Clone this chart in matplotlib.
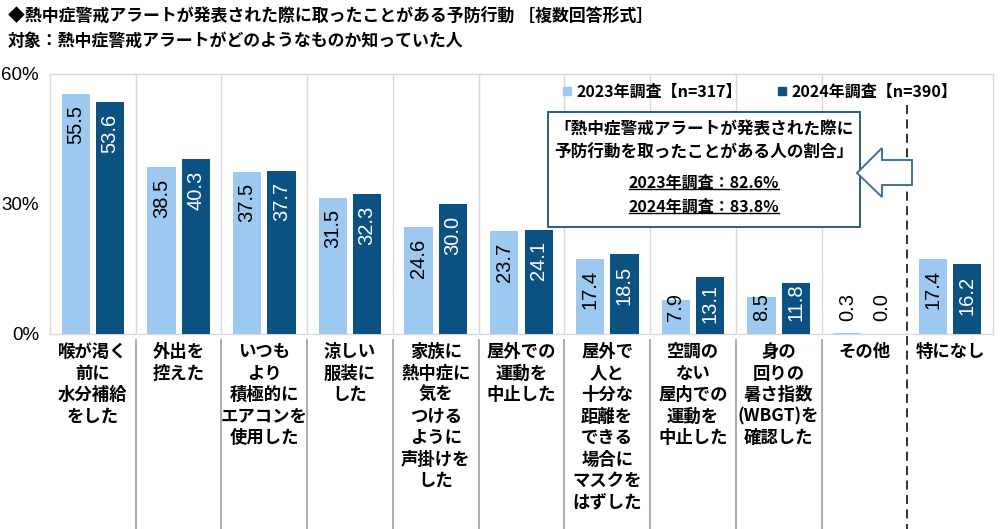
import matplotlib
matplotlib.use("Agg")
import matplotlib.pyplot as plt
import numpy as np
from matplotlib.lines import Line2D
from matplotlib.patches import Rectangle, Polygon
from matplotlib.transforms import blended_transform_factory

plt.rcParams['font.family'] = ['Noto Sans CJK JP', 'DejaVu Sans']

# data
categories = [
    "喉が渇く\n前に\n水分補給\nをした",
    "外出を\n控えた",
    "いつも\nより\n積極的に\nエアコンを\n使用した",
    "涼しい\n服装に\nした",
    "家族に\n熱中症に\n気を\nつける\nように\n声掛けを\nした",
    "屋外での\n運動を\n中止した",
    "屋外で\n人と\n十分な\n距離を\nできる\n場合に\nマスクを\nはずした",
    "空調の\nない\n屋内での\n運動を\n中止した",
    "身の\n回りの\n暑さ指数\n(WBGT)を\n確認した",
    "その他",
    "特になし",
]
vals_2023 = [55.5, 38.5, 37.5, 31.5, 24.6, 23.7, 17.4, 7.9, 8.5, 0.3, 17.4]
vals_2024 = [53.6, 40.3, 37.7, 32.3, 30.0, 24.1, 18.5, 13.1, 11.8, 0.0, 16.2]
series_names = ["2023年調査【n=317】", "2024年調査【n=390】"]
yticks = [0, 30, 60]

c_light = "#9DC8F0"
c_dark = "#0B5182"

W, H = 1000, 529
fig = plt.figure(figsize=(W / 100, H / 100), dpi=100)
ax = fig.add_axes([50 / W, 1 - 334 / H, 943 / W, 260 / H])

x = np.arange(len(categories))
bw = 0.33
off = 0.2
ax.bar(x - off, vals_2023, bw, color=c_light, zorder=3)
ax.bar(x + off, vals_2024, bw, color=c_dark, zorder=3)

ax.set_xlim(-0.5, len(categories) - 0.5)
ax.set_ylim(0, 60)
ax.set_yticks(yticks)
ax.set_yticklabels([f"{t}%" for t in yticks], family="Liberation Sans", fontsize=13.5)
ax.tick_params(axis='y', length=0, pad=8)
ax.set_xticks([])
for s in ax.spines.values():
    s.set_color("#D9D9D9")
    s.set_linewidth(1)
for b in np.arange(0.5, len(categories) - 1, 1):
    if b != 9.5:
        ax.axvline(b, color="#D9D9D9", lw=1, zorder=1)

# value labels
def put_labels(xs, vals, color):
    for xi, v in zip(xs, vals):
        t = f"{v:.1f}"
        top = max(v - 2.7, 2.8 + 2.2 * len(t))
        col = color if v > 2 else "black"
        ax.text(xi, top, t, rotation=90, ha='center', va='top', color=col,
                family="Liberation Sans", fontsize=14.5, zorder=4)

put_labels(x - off, vals_2023, "black")
put_labels(x + off, vals_2024, "white")

# separators below plot and dashed line
tr = blended_transform_factory(ax.transData, fig.transFigure)
for b in np.arange(0.5, len(categories) - 1, 1):
    if b == 9.5:
        fig.add_artist(Line2D([b, b], [1 - 105 / H, 0], transform=tr, color="#222222",
                              lw=1.3, ls=(0, (5, 3)), zorder=5))
    else:
        fig.add_artist(Line2D([b, b], [1 - 340 / H, 0], transform=tr, color="#A6A6A6", lw=1.3))

# category labels
for xi, lab in zip(x, categories):
    ax.text(xi, -2.1, lab, ha='center', va='top', fontsize=12.5, fontweight='bold',
            linespacing=1.25)

# titles
fig.text(8 / W, 1 - 17 / H, "◆熱中症警戒アラートが発表された際に取ったことがある予防行動 ［複数回答形式］",
         fontsize=12.2, fontweight='bold', va='center')
fig.text(8 / W, 1 - 41 / H, "対象：熱中症警戒アラートがどのようなものか知っていた人",
         fontsize=12.2, fontweight='bold', va='center')

# legend
handles = [Line2D([], [], marker='s', ls='', ms=6, color=c) for c in (c_light, c_dark)]
fig.legend(handles, series_names, loc='center', bbox_to_anchor=(760 / W, 1 - 92 / H),
           ncol=2, frameon=False, handlelength=0.6, handletextpad=0.3, columnspacing=2.2,
           prop={'weight': 'bold', 'size': 11.5})

# annotation box
fig.add_artist(Rectangle((548 / W, 1 - 227 / H), 312 / W, 115 / H, transform=fig.transFigure,
                         facecolor='white', edgecolor="#2E5C84", lw=1.4, zorder=6))
arrow_px = [(857, 173), (882, 148), (882, 160), (912, 160), (912, 185), (882, 185), (882, 197)]
fig.add_artist(Polygon([(px / W, 1 - py / H) for px, py in arrow_px], closed=True,
                       transform=fig.transFigure, facecolor='white', edgecolor="#41719C",
                       lw=1.4, zorder=7))
cx = 704 / W
fig.text(cx, 1 - 129 / H, "「熱中症警戒アラートが発表された際に", ha='center', va='center',
         fontsize=12, fontweight='bold', zorder=8)
fig.text(cx, 1 - 153 / H, "予防行動を取ったことがある人の割合」", ha='center', va='center',
         fontsize=12, fontweight='bold', zorder=8)
under = []
under.append(fig.text(cx, 1 - 183 / H, "2023年調査：82.6%", ha='center', va='center',
                      fontsize=11.5, fontweight='bold', zorder=8))
under.append(fig.text(cx, 1 - 207 / H, "2024年調査：83.8%", ha='center', va='center',
                      fontsize=11.5, fontweight='bold', zorder=8))

fig.canvas.draw()
r = fig.canvas.get_renderer()
for t in under:
    bb = t.get_window_extent(r)
    yy = (bb.y0 + 2) / H
    fig.add_artist(Line2D([bb.x0 / W, bb.x1 / W], [yy, yy], transform=fig.transFigure,
                          color='black', lw=1, zorder=8))

fig.savefig("out.png", dpi=100)
